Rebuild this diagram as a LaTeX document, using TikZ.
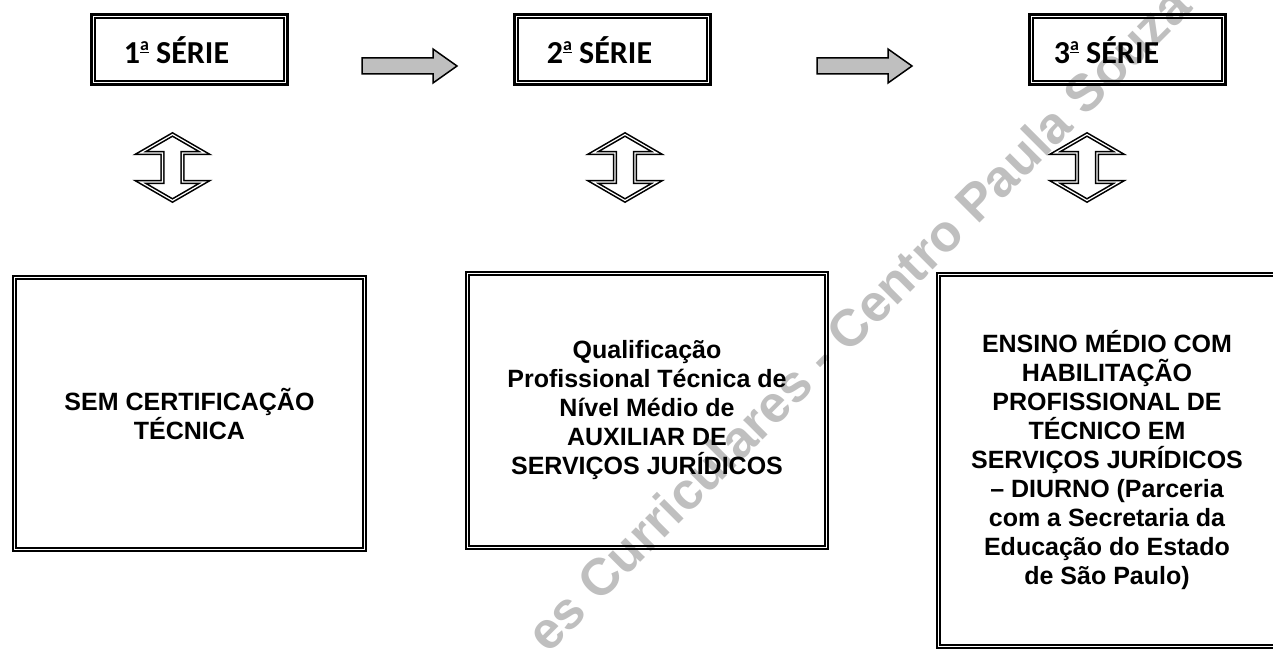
\documentclass[tikz,border=0pt]{standalone}
\usepackage{fontspec}
\setmainfont{Liberation Sans}
\newfontfamily\calibri{Carlito}
\usetikzlibrary{calc}
\newcommand{\ordA}{\raisebox{13bp}{\fontsize{18bp}{18bp}\selectfont\underline{a}}}
\begin{document}
\begin{tikzpicture}[x=1bp,y=-1bp,
  dblbox/.style={draw, line width=2.7bp, inner sep=0pt, align=center, font=\bfseries\fontsize{25bp}{29bp}\selectfont},
  innerline/.style={draw, line width=2.2bp},
  toplabel/.style={font=\calibri\bfseries\fontsize{32bp}{38bp}\selectfont, anchor=base, inner sep=0pt},
  grayarrow/.style={fill=gray!50, draw=black, line width=1.5bp, line join=miter},
  updown/.style={draw=black, line width=1.6bp, double=white, double distance=1.2bp, line join=miter},
  watermark/.style={text=gray!50, font=\bfseries\fontsize{52bp}{60bp}\selectfont, rotate=45, anchor=base west, inner sep=0pt}
]
\useasboundingbox (0,0) rectangle (1273,651);
\begin{scope}
\clip (0,0) rectangle (1273,651);
\node[watermark] (wm) at (548,655) {es Curriculares - Centro Paula Souza /};

% top boxes
\node[dblbox, minimum width=196.3, minimum height=70.3] (s1) at (189.5,49.5) {};
\node[dblbox, minimum width=196.3, minimum height=70.3] (s2) at (612.5,49.5) {};
\node[dblbox, minimum width=196.3, minimum height=70.3] (s3) at (1127.5,49.5) {};
\node[toplabel] (t1) at (176.5,64) {1\ordA\ SÉRIE};
\node[toplabel] (t2) at (599.5,64) {2\ordA\ SÉRIE};
\node[toplabel] (t3) at (1106.5,64) {3\ordA\ SÉRIE};

% bottom boxes
\node[dblbox, minimum width=354.3, minimum height=276.3] (bA) at (189.5,413.5)
  {SEM CERTIFICAÇÃO\\TÉCNICA};
\node[dblbox, minimum width=363.3, minimum height=278.3] (bB) at (647,410.5)
  {Qualificação\\Profissional Técnica de\\Nível Médio de\\AUXILIAR DE\\SERVIÇOS JURÍDICOS};
\node[dblbox, minimum width=341.3, minimum height=376.3] (bC) at (1107,460.5)
  {ENSINO MÉDIO COM\\HABILITAÇÃO\\PROFISSIONAL DE\\TÉCNICO EM\\SERVIÇOS JURÍDICOS\\– DIURNO (Parceria\\com a Secretaria da\\Educação do Estado\\de São Paulo)};

% inner lines of the double borders
\foreach \b in {s1,s2,s3,bA,bB,bC}{
  \draw[innerline] ($(\b.north west)+(4.5,4.5)$) rectangle ($(\b.south east)+(-4.5,-4.5)$);
}

% gray arrows between series
\coordinate (a1) at (362,66);
\coordinate (a2) at (817,66);
\foreach \a in {a1,a2}{
  \draw[grayarrow] (\a) ++(0,-8) -- ++(71,0) -- ++(0,-9) -- ++(24,17) -- ++(-24,17) -- ++(0,-9) -- ++(-71,0) -- cycle;
}

% up-down double arrows
\coordinate (u1) at (172.5,132);
\coordinate (u2) at (625,132);
\coordinate (u3) at (1087,132);
\foreach \u in {u1,u2,u3}{
  \draw[updown] (\u) ++(0,2.5) -- ++(32,18.5) -- ++(-22,0) -- ++(0,29) -- ++(22,0) -- ++(-32,18.5)
     -- ++(-32,-18.5) -- ++(22,0) -- ++(0,-29) -- ++(-22,0) -- cycle;
}
\end{scope}
\end{tikzpicture}
\end{document}
